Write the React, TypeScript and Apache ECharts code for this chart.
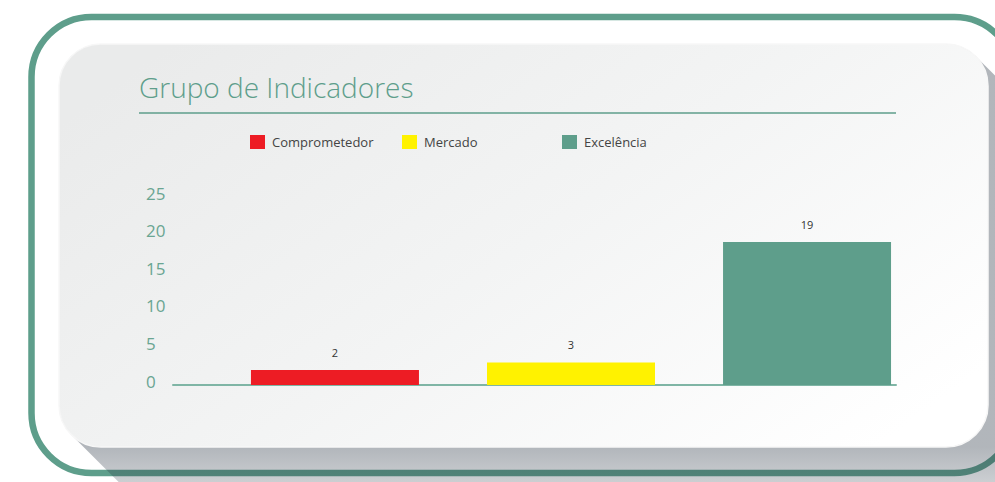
import React, { useEffect, useRef } from "react";
import * as echarts from "echarts";

const seriesNames = ["Comprometedor", "Mercado", "Excelência"];
const seriesValues = [2, 3, 19];
const seriesColors = ["#ed1c24", "#fff200", "#5e9e8b"];
const yTicks = { min: 0, max: 25, interval: 5 };
const titleText = "Grupo de Indicadores";
const legendLefts = [250, 402, 562];

const FONT = "'Open Sans', 'Noto Sans', sans-serif";

function roundRectPoints(x: number, y: number, w: number, h: number, r: number) {
  const pts: number[][] = [];
  const corners = [
    [x + w - r, y + r, -90],
    [x + w - r, y + h - r, 0],
    [x + r, y + h - r, 90],
    [x + r, y + r, 180],
  ];
  for (const [cx, cy, a0] of corners) {
    for (let i = 0; i <= 8; i++) {
      const a = ((a0 + (i * 90) / 8) * Math.PI) / 180;
      pts.push([cx + r * Math.cos(a), cy + r * Math.sin(a)]);
    }
  }
  return pts;
}

function hull(points: number[][]) {
  const p = points.slice().sort((a, b) => (a[0] - b[0]) || (a[1] - b[1]));
  const cross = (o: number[], a: number[], b: number[]) =>
    (a[0] - o[0]) * (b[1] - o[1]) - (a[1] - o[1]) * (b[0] - o[0]);
  const lower: number[][] = [];
  for (const pt of p) {
    while (lower.length >= 2 && cross(lower[lower.length - 2], lower[lower.length - 1], pt) <= 0) lower.pop();
    lower.push(pt);
  }
  const upper: number[][] = [];
  for (let i = p.length - 1; i >= 0; i--) {
    const pt = p[i];
    while (upper.length >= 2 && cross(upper[upper.length - 2], upper[upper.length - 1], pt) <= 0) upper.pop();
    upper.push(pt);
  }
  upper.pop();
  lower.pop();
  return lower.concat(upper);
}

export default function App() {
  const ref = useRef<HTMLDivElement>(null);
  useEffect(() => {
    if (!ref.current) return;
    const chart = echarts.init(ref.current, null, { renderer: "svg" });

    const card = { x: 59, y: 44, w: 929, h: 403, r: 42 };
    const base = roundRectPoints(card.x, card.y, card.w, card.h, card.r);
    const d = 70;
    const shadowPts = hull(base.concat(base.map(([px, py]) => [px + d, py + d])));

    const option: any = {
      animation: false,
      backgroundColor: "#ffffff",
      graphic: [
        {
          type: "rect",
          z: -10,
          silent: true,
          shape: { x: 31.5, y: 17, width: 983, height: 456, r: 60 },
          style: { fill: "none", stroke: "#5e9e8b", lineWidth: 6.5 },
        },
        {
          type: "polygon",
          z: -9,
          silent: true,
          shape: { points: shadowPts },
          style: {
            fill: {
              type: "linear",
              x: 0,
              y: 447,
              x2: 0,
              y2: 482,
              global: true,
              colorStops: [
                { offset: 0, color: "rgba(40,52,66,0.36)" },
                { offset: 1, color: "rgba(40,52,66,0.24)" },
              ],
            },
          },
        },
        {
          type: "rect",
          z: -8,
          silent: true,
          shape: { x: card.x, y: card.y, width: card.w, height: card.h, r: card.r },
          style: {
            fill: {
              type: "linear",
              x: 0,
              y: 0.2,
              x2: 1,
              y2: 0.8,
              colorStops: [
                { offset: 0, color: "#eaebeb" },
                { offset: 0.5, color: "#f3f4f4" },
                { offset: 1, color: "#ffffff" },
              ],
            },
            stroke: "#f7f7f7",
            lineWidth: 1.5,
          },
        },
        {
          type: "line",
          z: -7,
          silent: true,
          shape: { x1: 139, y1: 113, x2: 896, y2: 113 },
          style: { stroke: "#5e9e8b", lineWidth: 1.5 },
        },
      ],
      title: {
        text: titleText,
        left: 134,
        top: 68,
        textStyle: { color: "#5e9e8b", fontSize: 28, fontWeight: 300, fontFamily: FONT },
      },
      legend: seriesNames.map((n, i) => ({
        data: [{ name: n, icon: "rect" }],
        left: legendLefts[i],
        top: 135,
        itemWidth: 15,
        itemHeight: 14,
        padding: 0,
        itemGap: 0,
        selectedMode: false,
        textStyle: { color: "#444444", fontSize: 13, fontFamily: FONT, padding: [0, 0, 0, 2] },
      })),
      grid: [
        { left: 173, right: 99, top: 193, bottom: 101 },
        { left: 210, right: 63, top: 197, bottom: 97 },
        { left: 173, right: 99, top: 197, bottom: 97 },
      ],
      xAxis: [
        { type: "category", gridIndex: 0, data: [""], show: false },
        { type: "category", gridIndex: 1, data: [""], show: false },
        {
          type: "category",
          gridIndex: 2,
          data: [""],
          axisLine: { show: true, lineStyle: { color: "#7fb5a5", width: 2 } },
          axisTick: { show: false },
          axisLabel: { show: false },
        },
      ],
      yAxis: [
        {
          type: "value",
          gridIndex: 0,
          min: yTicks.min,
          max: yTicks.max,
          interval: yTicks.interval,
          axisLine: { show: false },
          axisTick: { show: false },
          splitLine: { show: false },
          axisLabel: {
            color: "#6aa592",
            fontSize: 17,
            fontWeight: 400,
            fontFamily: FONT,
            align: "left",
            margin: 27,
          },
        },
        {
          type: "value",
          gridIndex: 1,
          min: yTicks.min,
          max: yTicks.max,
          interval: yTicks.interval,
          show: false,
        },
        {
          type: "value",
          gridIndex: 2,
          min: yTicks.min,
          max: yTicks.max,
          interval: yTicks.interval,
          show: false,
        },
      ],
      series: seriesNames.map((n, i) => ({
        name: n,
        type: "bar",
        xAxisIndex: 1,
        yAxisIndex: 1,
        data: [seriesValues[i]],
        barWidth: 168,
        barGap: "40.5%",
        itemStyle: { color: seriesColors[i] },
        label: {
          show: true,
          position: "top",
          distance: 12,
          color: "#333333",
          fontSize: 11,
          fontFamily: FONT,
        },
      })),
    };
    chart.setOption(option);
    return () => chart.dispose();
  }, []);
  return (
    <div
      ref={ref}
      style={{ position: "fixed", left: 0, top: 0, width: 995, height: 482 }}
    />
  );
}
